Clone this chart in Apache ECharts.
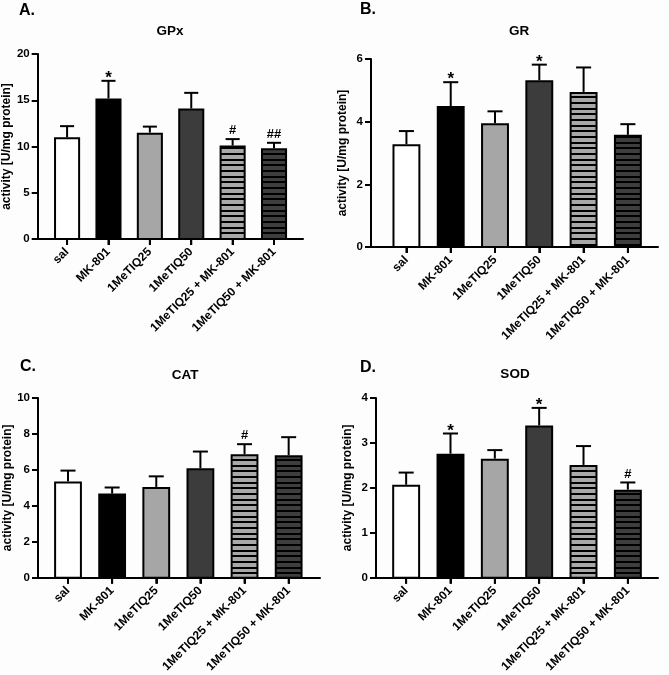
<!DOCTYPE html>
<html>
<head>
<meta charset="utf-8">
<script src="https://cdn.jsdelivr.net/npm/echarts@6/dist/echarts.min.js"></script>
<style>
html,body{margin:0;padding:0;background:#fdfdfd;}
#chart{width:669px;height:675px;}
</style>
</head>
<body>
<div id="chart"></div>
<script>
// ---- data ----
const categories = ['sal', 'MK-801', '1MeTIQ25', '1MeTIQ50', '1MeTIQ25 + MK-801', '1MeTIQ50 + MK-801'];

const gpxMean = [11.0, 15.2, 11.5, 14.1, 10.1, 9.8];
const gpxErr  = [1.2, 1.9, 0.65, 1.7, 0.7, 0.6];
const gpxSig  = ['', '*', '', '', '#', '##'];

const grMean = [3.28, 4.50, 3.95, 5.32, 4.95, 3.58];
const grErr  = [0.42, 0.76, 0.38, 0.50, 0.78, 0.34];
const grSig  = ['', '*', '', '*', '', ''];

const catMean = [5.36, 4.68, 5.05, 6.09, 6.87, 6.82];
const catErr  = [0.60, 0.34, 0.59, 0.93, 0.56, 1.00];
const catSig  = ['', '', '', '', '#', ''];

const sodMean = [2.07, 2.76, 2.65, 3.39, 2.51, 1.96];
const sodErr  = [0.27, 0.45, 0.19, 0.39, 0.42, 0.16];
const sodSig  = ['', '*', '', '*', '', '#'];

const yTicksGPx = [0, 5, 10, 15, 20];
const yTicksGR  = [0, 2, 4, 6];
const yTicksCAT = [0, 2, 4, 6, 8, 10];
const yTicksSOD = [0, 1, 2, 3, 4];

// ---- styles ----
const FONT = 'Liberation Sans, Arial, sans-serif';
function makeStripes(bg) {
  const c = document.createElement('canvas');
  c.width = 4; c.height = 17;
  const ctx = c.getContext('2d');
  ctx.fillStyle = bg; ctx.fillRect(0, 0, 4, 17);
  ctx.fillStyle = '#000';
  ctx.fillRect(0, 0, 4, 2);
  ctx.fillRect(0, 6, 4, 2);
  ctx.fillRect(0, 11, 4, 2);
  return c;
}
const lightStripe = makeStripes('#a8a8a8');
const darkStripe = makeStripes('#3e3e3e');
const fills = ['#ffffff', '#000000', '#a6a6a6', '#3c3c3c',
  { image: lightStripe, repeat: 'repeat' },
  { image: darkStripe, repeat: 'repeat' }];

const panels = [
  { letter: 'A.', title: 'GPx', mean: gpxMean, err: gpxErr, sig: gpxSig, ticks: yTicksGPx,
    grid: { left: 36, right: 366, top: 54, bottom: 436 }, xmin: -0.71, xmax: 5.70,
    letterPos: [19, 3], titlePos: [170, 24] },
  { letter: 'B.', title: 'GR', mean: grMean, err: grErr, sig: grSig, ticks: yTicksGR,
    grid: { left: 371, right: 11, top: 59, bottom: 428 }, xmin: -0.80, xmax: 5.68,
    letterPos: [360, 2], titlePos: [519, 24] },
  { letter: 'C.', title: 'CAT', mean: catMean, err: catErr, sig: catSig, ticks: yTicksCAT,
    grid: { left: 38, right: 349, top: 398, bottom: 90 }, xmin: -0.68, xmax: 5.71,
    letterPos: [20, 359], titlePos: [185, 368] },
  { letter: 'D.', title: 'SOD', mean: sodMean, err: sodErr, sig: sodSig, ticks: yTicksSOD,
    grid: { left: 376, right: 11, top: 398, bottom: 90 }, xmin: -0.68, xmax: 5.68,
    letterPos: [360, 360], titlePos: [515, 367] }
];

const option = {
  backgroundColor: '#fdfdfd',
  animation: false,
  title: [],
  grid: [],
  xAxis: [],
  yAxis: [],
  series: []
};

panels.forEach((p, k) => {
  option.title.push({
    text: p.letter, left: p.letterPos[0], top: p.letterPos[1], padding: 0,
    textStyle: { fontFamily: FONT, fontWeight: 'bold', fontSize: 16, color: '#000' }
  });
  option.title.push({
    text: p.title, left: p.titlePos[0], top: p.titlePos[1], padding: 0, textAlign: 'center',
    textStyle: { fontFamily: FONT, fontWeight: 'bold', fontSize: 13.5, color: '#000' }
  });
  option.grid.push(Object.assign({ containLabel: false }, p.grid));
  option.xAxis.push({
    type: 'value', gridIndex: k, min: p.xmin, max: p.xmax,
    splitLine: { show: false },
    axisLine: { show: true, onZero: false, lineStyle: { color: '#000', width: 2 } },
    axisTick: { show: true, customValues: categories.map((c, i) => i), length: 6, lineStyle: { color: '#000', width: 2 } },
    axisLabel: {
      show: true, customValues: categories.map((c, i) => i), rotate: 45, margin: 11,
      formatter: v => categories[Math.round(v)],
      fontFamily: FONT, fontWeight: 'bold', fontSize: 12, color: '#000'
    }
  });
  const t = p.ticks;
  option.yAxis.push({
    type: 'value', gridIndex: k, min: t[0], max: t[t.length - 1], interval: t[1] - t[0],
    name: 'activity [U/mg protein]', nameLocation: 'middle', nameGap: 22,
    nameTextStyle: { fontFamily: FONT, fontWeight: 'bold', fontSize: 12, color: '#000' },
    splitLine: { show: false },
    axisLine: { show: true, onZero: false, lineStyle: { color: '#000', width: 2 } },
    axisTick: { show: true, length: 6, lineStyle: { color: '#000', width: 2 } },
    axisLabel: { margin: 8, fontFamily: FONT, fontWeight: 'bold', fontSize: 11.5, color: '#000' }
  });
  option.series.push({
    type: 'custom', xAxisIndex: k, yAxisIndex: k, clip: false, z: 1,
    data: p.mean.map((m, i) => [i, m, p.err[i]]),
    renderItem: (params, api) => {
      const i = api.value(0), m = api.value(1), e = api.value(2);
      const base = api.coord([i, 0]);
      const top = api.coord([i, m]);
      const et = api.coord([i, m + e]);
      const band = api.size([1, 0])[0];
      const bw = band * 0.63, cw = band * 0.34;
      const sig = p.sig[params.dataIndex];
      const children = [
        // category tick below the axis
        { type: 'line', shape: { x1: base[0], y1: base[1], x2: base[0], y2: base[1] + 6 },
          style: { stroke: '#000', lineWidth: 2 } },
        { type: 'line', shape: { x1: top[0], y1: top[1], x2: et[0], y2: et[1] },
          style: { stroke: '#000', lineWidth: 2 } },
        { type: 'line', shape: { x1: et[0] - cw / 2, y1: et[1], x2: et[0] + cw / 2, y2: et[1] },
          style: { stroke: '#000', lineWidth: 2 } },
        { type: 'rect', shape: { x: base[0] - bw / 2 + 1, y: top[1] + 1, width: bw - 2, height: base[1] - top[1] - 1 },
          style: { fill: fills[params.dataIndex], stroke: '#000', lineWidth: 2 } }
      ];
      if (sig) {
        const star = sig.indexOf('*') >= 0;
        children.push({
          type: 'text', x: et[0], y: et[1] + (star ? 6 : -2),
          style: { text: sig, fill: '#000', textAlign: 'center', textVerticalAlign: 'bottom',
            font: 'bold ' + (star ? 17 : 13) + 'px ' + FONT }
        });
      }
      return { type: 'group', children };
    }
  });
});

const chart = echarts.init(document.getElementById('chart'), null, { renderer: 'canvas' });
chart.setOption(option);
</script>
</body>
</html>
